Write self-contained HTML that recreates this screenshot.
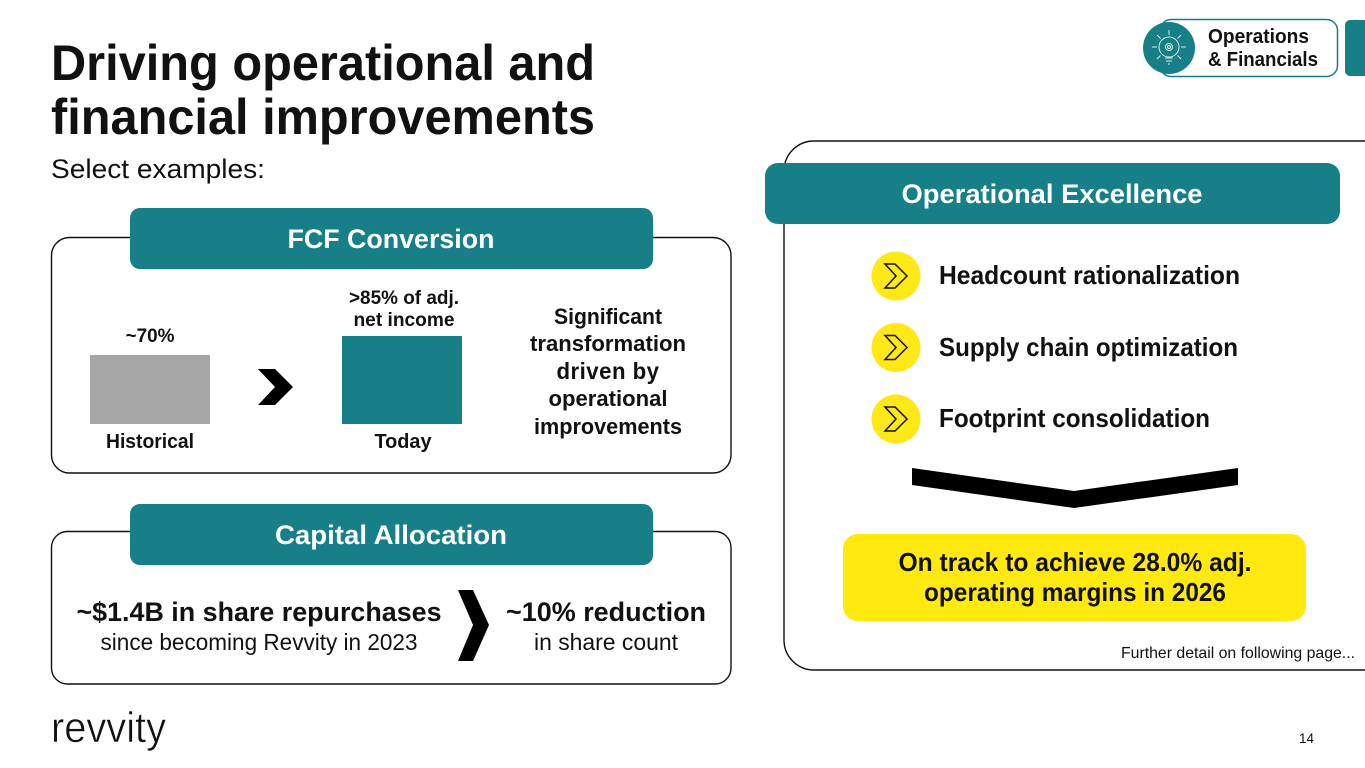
<!DOCTYPE html>
<html><head><meta charset="utf-8"><style>
html,body{margin:0;padding:0;background:#fff;width:1365px;height:768px;overflow:hidden}
svg{display:block}
text{font-family:"Liberation Sans",sans-serif;fill:#111}
.b{font-weight:bold}
.w{fill:#fff;font-weight:bold}
</style></head><body>
<svg width="1365" height="768" viewBox="0 0 1365 768" xmlns="http://www.w3.org/2000/svg">
<text class="b" x="51" y="80" font-size="50" textLength="544" lengthAdjust="spacingAndGlyphs">Driving operational and</text>
<text class="b" x="51" y="134" font-size="50" textLength="544" lengthAdjust="spacingAndGlyphs">financial improvements</text>
<text x="51" y="178" font-size="27" textLength="214" lengthAdjust="spacingAndGlyphs">Select examples:</text>

<rect x="51.5" y="237.5" width="679.5" height="235.5" rx="18" fill="#fff" stroke="#111" stroke-width="1.4"/>
<rect x="130" y="208" width="523" height="61" rx="10" fill="#167f87"/>
<text class="w" x="391" y="248" font-size="27" text-anchor="middle" textLength="207" lengthAdjust="spacingAndGlyphs" style="fill:#fff">FCF Conversion</text>
<text class="b" x="150" y="342" font-size="19" text-anchor="middle" textLength="49" lengthAdjust="spacingAndGlyphs">~70%</text>
<rect x="90" y="355" width="120" height="69" fill="#a6a6a6"/>
<text class="b" x="150" y="448" font-size="20" text-anchor="middle" textLength="88" lengthAdjust="spacingAndGlyphs">Historical</text>
<polygon points="258,369 275,369 293,387 275,405 258,405 275,387" fill="#000"/>
<text class="b" x="404" y="304" font-size="19" text-anchor="middle" textLength="110" lengthAdjust="spacingAndGlyphs">&gt;85% of adj.</text>
<text class="b" x="404" y="326" font-size="19" text-anchor="middle" textLength="101" lengthAdjust="spacingAndGlyphs">net income</text>
<rect x="342" y="336" width="120" height="88" fill="#167f87"/>
<text class="b" x="403" y="448" font-size="20" text-anchor="middle" textLength="57" lengthAdjust="spacingAndGlyphs">Today</text>
<g class="b" font-size="22" text-anchor="middle">
<text class="b" x="608" y="324" textLength="108" lengthAdjust="spacingAndGlyphs">Significant</text>
<text class="b" x="608" y="351" textLength="156" lengthAdjust="spacingAndGlyphs">transformation</text>
<text class="b" x="608" y="379" textLength="103" lengthAdjust="spacingAndGlyphs" font-size="23" style="letter-spacing:0.5px">driven by</text>
<text class="b" x="608" y="406" textLength="119" lengthAdjust="spacingAndGlyphs">operational</text>
<text class="b" x="608" y="434" textLength="148" lengthAdjust="spacingAndGlyphs">improvements</text>
</g>

<rect x="51.5" y="531.5" width="679.5" height="152.5" rx="16" fill="#fff" stroke="#111" stroke-width="1.4"/>
<rect x="130" y="504" width="523" height="61" rx="10" fill="#167f87"/>
<text x="391" y="544" font-size="27" font-weight="bold" text-anchor="middle" textLength="232" lengthAdjust="spacingAndGlyphs" style="fill:#fff">Capital Allocation</text>
<text class="b" x="259" y="621" font-size="27" text-anchor="middle" textLength="365" lengthAdjust="spacingAndGlyphs">~$1.4B in share repurchases</text>
<text x="259" y="650" font-size="23" text-anchor="middle" textLength="317" lengthAdjust="spacingAndGlyphs">since becoming Revvity in 2023</text>
<polygon points="458,590 473,590 489,625 473,661 458,661 473,625" fill="#000"/>
<text class="b" x="606" y="621" font-size="27" text-anchor="middle" textLength="200" lengthAdjust="spacingAndGlyphs">~10% reduction</text>
<text x="606" y="650" font-size="23" text-anchor="middle" textLength="144" lengthAdjust="spacingAndGlyphs">in share count</text>

<path d="M1380 141H814a30 30 0 0 0-30 30V640a30 30 0 0 0 30 30H1380" fill="#fff" stroke="#111" stroke-width="1.4"/>
<rect x="765" y="163" width="575" height="61" rx="13" fill="#167f87"/>
<text x="1052" y="203" font-size="27" font-weight="bold" text-anchor="middle" textLength="301" lengthAdjust="spacingAndGlyphs" style="fill:#fff">Operational Excellence</text>

<g fill="none" stroke="#111" stroke-width="1.5">
<circle cx="896" cy="276" r="24.5" fill="#ffe817" stroke="none"/>
<polygon points="885,264 895,264 907,276 895,288 885,288 896,276"/>
<circle cx="896" cy="347.5" r="24.5" fill="#ffe817" stroke="none"/>
<polygon points="885,335.500 895,335.500 907,347.500 895,359.500 885,359.500 896,347.500"/>
<circle cx="896" cy="419" r="24.5" fill="#ffe817" stroke="none"/>
<polygon points="885,407 895,407 907,419 895,431 885,431 896,419"/>
</g>
<text class="b" x="939" y="284" font-size="26" textLength="301" lengthAdjust="spacingAndGlyphs">Headcount rationalization</text>
<text class="b" x="939" y="356" font-size="26" textLength="299" lengthAdjust="spacingAndGlyphs">Supply chain optimization</text>
<text class="b" x="939" y="427" font-size="26" textLength="271" lengthAdjust="spacingAndGlyphs">Footprint consolidation</text>
<polygon points="912,468 1074,491 1238,468 1238,485 1074,508 912,485" fill="#000"/>
<rect x="843" y="534" width="463" height="87" rx="15" fill="#ffe90f"/>
<text class="b" x="1075" y="571" font-size="26" text-anchor="middle" textLength="353" lengthAdjust="spacingAndGlyphs">On track to achieve 28.0% adj.</text>
<text class="b" x="1075" y="601" font-size="26" text-anchor="middle" textLength="302" lengthAdjust="spacingAndGlyphs">operating margins in 2026</text>
<text x="1121" y="658" font-size="16" textLength="234" lengthAdjust="spacingAndGlyphs">Further detail on following page...</text>

<rect x="1160" y="19.500" width="177.500" height="57" rx="11" fill="#fff" stroke="#167f87" stroke-width="1.5"/>
<circle cx="1169" cy="48" r="26" fill="#167f87"/>
<g fill="none" stroke="#d5ecee" stroke-width="1">
<circle cx="1169" cy="47" r="10"/>
<circle cx="1169" cy="47" r="3.500"/>
<circle cx="1169" cy="47" r="1.500"/>
<path d="M1165 58h8M1166 61h6M1168 64h2M1169 30v5M1152 47h5M1181 47h5M1157 35l3.500 3.500M1181 35l-3.500 3.500M1157 59l3.500-3.500M1181 59l-3.500-3.500"/>
</g>
<text class="b" x="1208" y="43" font-size="20" textLength="101" lengthAdjust="spacingAndGlyphs">Operations</text>
<text class="b" x="1208" y="66" font-size="20" textLength="110" lengthAdjust="spacingAndGlyphs">&amp; Financials</text>
<rect x="1345" y="20" width="30" height="56" rx="5" fill="#167f87"/>

<text x="51" y="742" font-size="43" textLength="115" lengthAdjust="spacingAndGlyphs" stroke="#fff" stroke-width="0.6">revvity</text>
<text x="1299" y="743" font-size="14" textLength="15" lengthAdjust="spacingAndGlyphs">14</text>
</svg>
</body></html>
